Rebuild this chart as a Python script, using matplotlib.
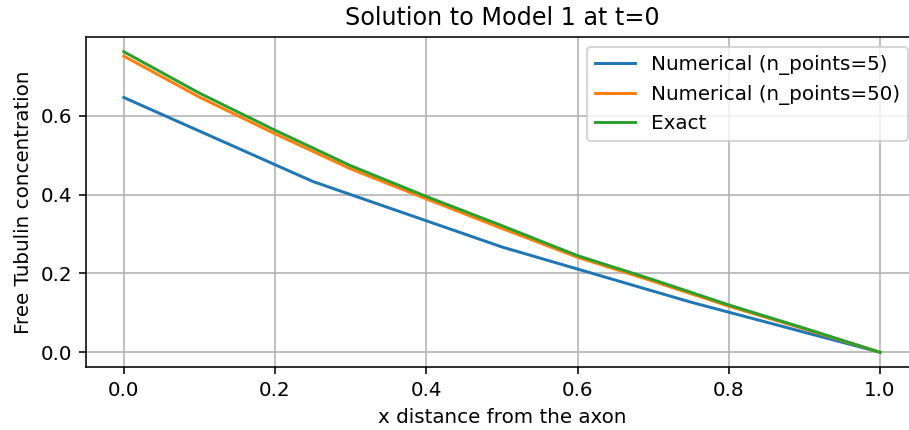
import matplotlib
matplotlib.use("Agg")
import matplotlib.pyplot as plt

x5 = [0.0, 0.25, 0.5, 0.75, 1.0]
y5 = [0.646, 0.433, 0.267, 0.127, 0.0]

x_fine = [0.0, 0.1, 0.2, 0.3, 0.4, 0.5, 0.6, 0.7, 0.8, 0.9, 1.0]
y50 = [0.751, 0.647, 0.554, 0.465, 0.389, 0.314, 0.241, 0.180, 0.117, 0.059, 0.0]
y_exact = [0.762, 0.657, 0.563, 0.473, 0.395, 0.321, 0.245, 0.184, 0.120, 0.061, 0.0]

DPI = 143
fig = plt.figure(figsize=(909 / DPI, 430 / DPI), dpi=DPI)
ax = fig.add_axes([86 / 909, 62.7 / 430, 831.8 / 909, 330.6 / 430])
ax.plot(x5, y5, label="Numerical (n_points=5)")
ax.plot(x_fine, y50, label="Numerical (n_points=50)")
ax.plot(x_fine, y_exact, label="Exact")
ax.set_title("Solution to Model 1 at t=0")
ax.set_xlabel("x distance from the axon")
ax.set_ylabel("Free Tubulin concentration")
ax.set_xticks([0.0, 0.2, 0.4, 0.6, 0.8, 1.0])
ax.set_yticks([0.0, 0.2, 0.4, 0.6])
ax.grid(True)
ax.legend(loc="upper right")
fig.savefig("out.png", dpi=DPI)
